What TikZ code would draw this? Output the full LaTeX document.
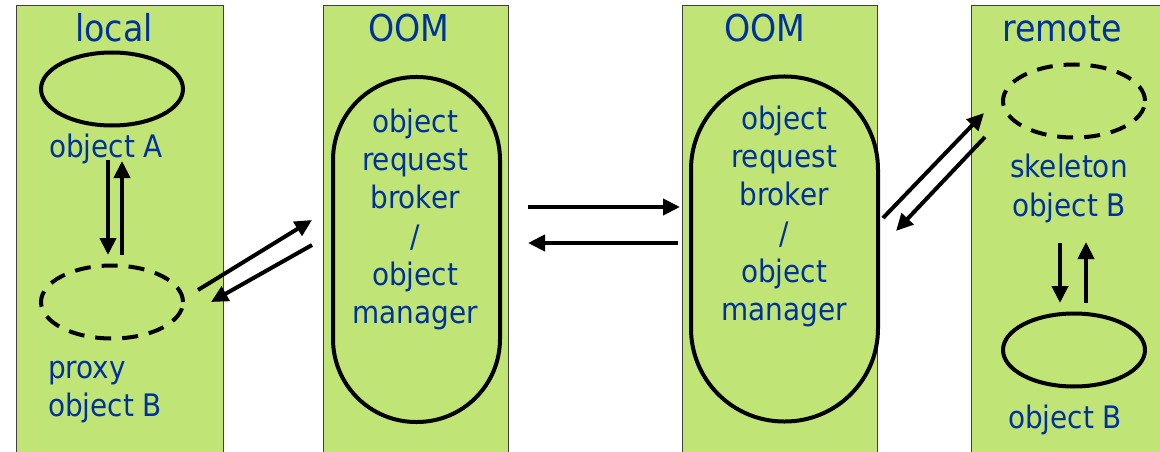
\documentclass[tikz,border=0pt]{standalone}
\usepackage{fontspec}
\setmainfont{DejaVu Sans Condensed}
\usetikzlibrary{arrows.meta,shapes.geometric}
\definecolor{panelgreen}{RGB}{192,228,118}
\definecolor{txtblue}{RGB}{0,51,153}
\begin{document}
\begin{tikzpicture}[x=1pt,y=-1pt,
  panel/.style={draw=black!75, line width=1pt, fill=panelgreen},
  title/.style={text=txtblue, font=\fontsize{37}{44}\selectfont, inner sep=0pt, anchor=base},
  lbl/.style={text=txtblue, font=\fontsize{31}{38.3}\selectfont, inner sep=0pt, align=center},
  obj/.style={ellipse, draw=black, line width=4pt, minimum width=142pt, minimum height=73pt, inner sep=0pt},
  ghost/.style={obj, dash pattern=on 16pt off 11pt},
  broker/.style={draw=black, line width=4pt, minimum height=345pt, inner sep=0pt},
  conn/.style={line width=4pt, -{Triangle[length=17pt,width=16pt]}}
]
\useasboundingbox (0,0) rectangle (1160,452);
\clip (0,0) rectangle (1160,452);
% panels
\draw[panel] (16,6) rectangle (223,470);
\draw[panel] (323,6) rectangle (508,470);
\draw[panel] (682,6) rectangle (877,470);
\draw[panel] (971,6) rectangle (1175,470);
% titles
\node[title] (tlocal) at (114,42) {local};
\node[title] (toom1) at (409,42) {OOM};
\node[title] (toom2) at (765,42) {OOM};
\node[title] (tremote) at (1062,42) {remote};
% shapes
\node[obj] (objA) at (112,89) {};
\node[ghost] (proxy) at (112,302) {};
\node[ghost] (skel) at (1074,101) {};
\node[obj] (objB) at (1074,350) {};
\node[broker, rounded corners=83pt, minimum width=167pt] (orb1) at (416.5,249.5) {};
\node[broker, rounded corners=93pt, minimum width=187pt] (orb2) at (784.5,249) {};
% labels
\node[lbl, anchor=base] (lA) at (106,157) {object A};
\node[lbl, anchor=north west, align=left] (lproxy) at (48,361) {proxy\\object B};
\node[lbl, anchor=north] (lorb1) at (415,108.5) {object\\request\\broker\\/\\object\\manager};
\node[lbl, anchor=north] (lorb2) at (784,105.5) {object\\request\\broker\\/\\object\\manager};
\node[lbl, anchor=north] (lskel) at (1069,154) {skeleton\\object B};
\node[lbl, anchor=base] (lB) at (1065,428) {object B};
% connector end points
\coordinate (a1s) at (108,160); \coordinate (a1e) at (108,255);
\coordinate (a2s) at (122,255); \coordinate (a2e) at (122,161);
\coordinate (b1s) at (198,290); \coordinate (b1e) at (312,220);
\coordinate (b2s) at (312,245); \coordinate (b2e) at (211,302);
\coordinate (c1s) at (528,207); \coordinate (c1e) at (680,207);
\coordinate (c2s) at (678,243); \coordinate (c2e) at (528,243);
\coordinate (d1s) at (883,218); \coordinate (d1e) at (984,113);
\coordinate (d2s) at (985,137); \coordinate (d2e) at (896,231);
\coordinate (e1s) at (1060,243); \coordinate (e1e) at (1060,303);
\coordinate (e2s) at (1086,303); \coordinate (e2e) at (1086,242);
% connectors
\draw[conn] (a1s) -- (a1e);
\draw[conn] (a2s) -- (a2e);
\draw[conn] (b1s) -- (b1e);
\draw[conn] (b2s) -- (b2e);
\draw[conn] (c1s) -- (c1e);
\draw[conn] (c2s) -- (c2e);
\draw[conn] (d1s) -- (d1e);
\draw[conn] (d2s) -- (d2e);
\draw[conn] (e1s) -- (e1e);
\draw[conn] (e2s) -- (e2e);
\end{tikzpicture}
\end{document}
